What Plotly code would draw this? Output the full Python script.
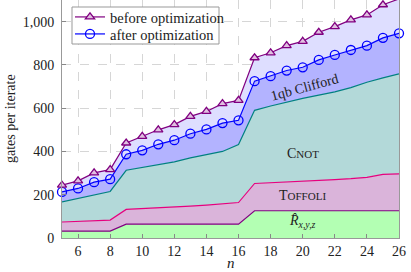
import plotly.graph_objects as go

n = list(range(5, 27))
# cumulative upper boundaries of each stacked band (gates per iterate)
rot_top = [32, 32, 32, 32, 64, 64, 64, 64, 64, 64, 64, 64,
           126, 126, 126, 126, 126, 126, 126, 126, 126, 126]
toffoli_top = [74, 76, 80, 83, 132, 135, 138, 141, 147, 152, 158, 164,
               252, 255, 258, 262, 266, 270, 274, 280, 294, 296]
cnot_top = [167, 182, 198, 215, 313, 325, 340, 352, 370, 385, 400, 432,
            590, 610, 628, 645, 660, 675, 695, 720, 740, 759]
after_opt = [213, 229, 258, 272, 387, 405, 433, 452, 482, 502, 531, 544,
             725, 748, 774, 789, 823, 846, 869, 889, 925, 946]
before_opt = [244, 264, 301, 316, 439, 470, 500, 524, 562, 585, 621, 636,
              833, 856, 889, 909, 951, 977, 1008, 1031, 1078, 1105]

x_ticks = list(range(6, 27, 2))
y_ticks = [0, 200, 400, 600, 800, 1000]

FONT = "Liberation Serif"
PW, PH = 337, 238  # plot area size in px

after_line = dict(color="#0000ff", width=1.2)
after_marker = dict(symbol="circle-open", size=9, color="#0000ff", line=dict(width=1.3))
before_line = dict(color="#800080", width=1.2)
before_marker = dict(symbol="triangle-up", size=8, color="#e0c0e0",
                     line=dict(width=1.3, color="#800080"))

fig = go.Figure()
fig.add_trace(go.Scatter(x=n, y=rot_top, mode="lines", fill="tozeroy",
                         fillcolor="#b3ffb3", line=dict(color="#800080", width=1.2),
                         showlegend=False, hoverinfo="skip"))
fig.add_trace(go.Scatter(x=n, y=toffoli_top, mode="lines", fill="tonexty",
                         fillcolor="#dab4da", line=dict(color="#e6007e", width=1.2),
                         showlegend=False, hoverinfo="skip"))
fig.add_trace(go.Scatter(x=n, y=cnot_top, mode="lines", fill="tonexty",
                         fillcolor="#b3d9d9", line=dict(color="#008080", width=1.2),
                         showlegend=False, hoverinfo="skip"))
fig.add_trace(go.Scatter(x=n, y=after_opt, mode="lines+markers", fill="tonexty",
                         fillcolor="#b3b3ff", line=after_line, marker=after_marker,
                         showlegend=False, cliponaxis=False))
fig.add_trace(go.Scatter(x=n, y=before_opt, mode="lines+markers", fill="tonexty",
                         fillcolor="#dedeff", line=before_line, marker=before_marker,
                         showlegend=False, cliponaxis=False))
# legend-only entries (line + marker, no fill swatch)
fig.add_trace(go.Scatter(x=[None], y=[None], mode="lines+markers", line=before_line,
                         marker=before_marker, name="before optimization",
                         legend="legend"))
fig.add_trace(go.Scatter(x=[None], y=[None], mode="lines+markers", line=after_line,
                         marker=after_marker, name="after optimization",
                         legend="legend2"))

leg_common = dict(xanchor="left", yanchor="middle", bgcolor="rgba(0,0,0,0)",
                  borderwidth=0, font=dict(family=FONT, size=14.5), itemwidth=30)

fig.update_layout(
    width=411, height=272,
    margin=dict(l=62, r=12, t=0, b=34),
    paper_bgcolor="white", plot_bgcolor="white",
    font=dict(family=FONT, size=14, color="#222"),
    legend=dict(x=(70 - 62) / PW, y=1 - 17 / PH, **leg_common),
    legend2=dict(x=(70 - 62) / PW, y=1 - 34 / PH, **leg_common),
    shapes=[dict(type="rect", xref="paper", yref="paper",
                 x0=(72 - 62) / PW, x1=(219 - 62) / PW,
                 y0=1 - 44 / PH, y1=1 - 7 / PH,
                 fillcolor="white", line=dict(color="#999", width=1), layer="above")],
    annotations=[
        dict(x=20.1, y=696, text="1qb Clifford", showarrow=False, textangle=-15,
             font=dict(family=FONT, size=14)),
        dict(x=20.0, y=392, text="C<span style='font-size:11px'>NOT</span>",
             showarrow=False, font=dict(family=FONT, size=14)),
        dict(x=20.0, y=198, text="T<span style='font-size:11px'>OFFOLI</span>",
             showarrow=False, font=dict(family=FONT, size=14)),
        dict(x=20.0, y=76, text="<i>R̂</i><sub><i>x,y,z</i></sub>",
             showarrow=False, font=dict(family=FONT, size=14)),
        dict(xref="paper", yref="paper", x=-52 / PW, y=0.5,
             text="gates per iterate", textangle=-90, showarrow=False,
             xanchor="center", yanchor="middle", font=dict(family=FONT, size=14)),
        dict(xref="paper", yref="paper", x=0.5, y=-25 / PH,
             text="<i>n</i>", showarrow=False, xanchor="center", yanchor="middle",
             font=dict(family=FONT, size=15)),
    ],
)
fig.update_xaxes(range=[5, 26], tickvals=x_ticks, ticks="inside", ticklen=4,
                 tickcolor="#888", showline=True, linecolor="#999", linewidth=1,
                 mirror=True, showgrid=True, gridcolor="#d6d6d6", griddash="dash",
                 zeroline=False, tickfont=dict(family=FONT, size=14))
fig.update_yaxes(range=[0, 1100], tickvals=y_ticks, tickformat=",", ticks="inside",
                 ticklen=4, tickcolor="#888", showline=True, linecolor="#999",
                 linewidth=1, mirror=True, showgrid=True, gridcolor="#d6d6d6",
                 griddash="dash", zeroline=False, tickfont=dict(family=FONT, size=14),
                 ticklabelstandoff=4)

fig.write_html("out.html", post_script="document.body.style.margin='0';",
               config={"displayModeBar": False})
